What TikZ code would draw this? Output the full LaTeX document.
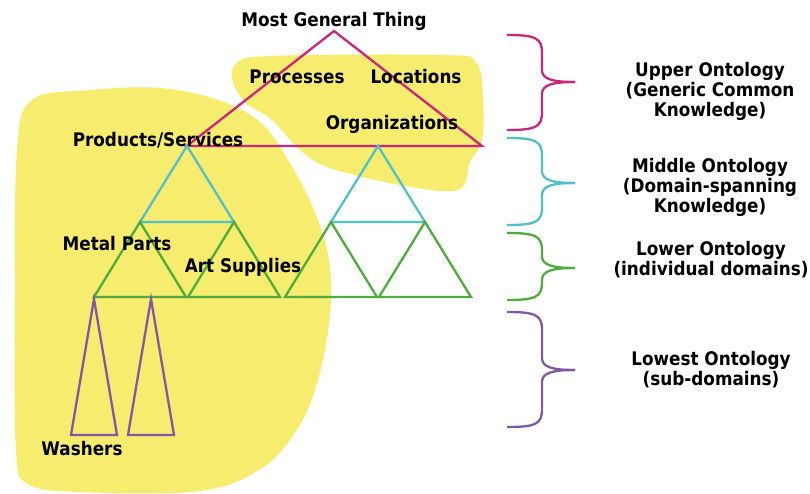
\documentclass[tikz,border=0pt]{standalone}
\usepackage{fontspec}
\setmainfont{DejaVu Sans}[FakeStretch=0.9]
\definecolor{blobyellow}{RGB}{246,236,110}
\definecolor{upperpink}{RGB}{205,36,124}
\definecolor{middlecyan}{RGB}{82,192,200}
\definecolor{lowergreen}{RGB}{78,172,60}
\definecolor{lowestpurple}{RGB}{128,88,168}
\tikzset{
  lbl/.style={font=\fontsize{18.7}{20}\selectfont\bfseries,inner sep=0pt,align=center},
  tri/.style={line width=2.3pt},
  bracepath/.style={line width=2.3pt},
}
% colour, top, tip, bottom
\newcommand{\ontbrace}[4]{%
  \draw[bracepath,#1] (507,#2) .. controls (536,#2) and (542,#2+3) .. (542,#2+18)
    -- (542,#3-12) .. controls (542,#3-3) and (552,#3) .. (575,#3);
  \draw[bracepath,#1] (575,#3) .. controls (552,#3) and (542,#3+3) .. (542,#3+12)
    -- (542,#4-18) .. controls (542,#4-3) and (536,#4) .. (507,#4);
}

\begin{document}
\begin{tikzpicture}[x=1pt,y=-1pt]
        \useasboundingbox (0,0) rectangle (810,493);
        % yellow areas
        \fill[blobyellow] plot[smooth cycle,tension=0.6] coordinates {(32,100) (90,90) (160,88) (218,100) (260,122) (288,160) (314,210) (329,260) (330,315) (318,380) (298,428) (262,468) (200,491) (80,492) (28,484) (16,450) (15,300) (17,150)};
        \fill[blobyellow] plot[smooth cycle,tension=0.6] coordinates {(236,64) (270,56) (440,55) (476,62) (483,100) (482,140) (470,162) (458,190) (400,185) (330,168) (300,150) (272,120) (246,103) (233,82)};
        % triangles
        \draw[tri,upperpink] (334,31) -- (187,146) -- (482,146) -- cycle;
        \foreach \x in {187,378}
          \draw[tri,middlecyan] (\x,146) -- (\x-47,222) -- (\x+47,222) -- cycle;
        \foreach \x in {140,234,331,425}
          \draw[tri,lowergreen] (\x,222) -- (\x-46,297) -- (\x+46,297) -- cycle;
        \foreach \x in {94,151}
          \draw[tri,lowestpurple] (\x,299) -- (\x-23,435) -- (\x+23,435) -- cycle;
        % labels
        \node[lbl] (most) at (334,21) {Most General Thing};
        \node[lbl] (proc) at (297,77) {Processes};
        \node[lbl] (loc) at (416,77) {Locations};
        \node[lbl] (org) at (392,124) {Organizations};
        \node[lbl] (prod) at (158,140) {Products/Services};
        \node[lbl] (metal) at (117,244) {Metal Parts};
        \node[lbl] (art) at (243,267) {Art Supplies};
        \node[lbl] (wash) at (82,449) {Washers};
        % levels
        \ontbrace{upperpink}{35}{82}{130}
        \ontbrace{middlecyan}{138}{183}{225}
        \ontbrace{lowergreen}{233}{268}{300}
        \ontbrace{lowestpurple}{312}{370}{427}
        \node[lbl] (upper) at (710,91) {Upper Ontology\\(Generic Common\\Knowledge)};
        \node[lbl] (middle) at (710,187) {Middle Ontology\\(Domain-spanning\\Knowledge)};
        \node[lbl] (lower) at (711,260) {Lower Ontology\\(individual domains)};
        \node[lbl] (lowest) at (711,370) {Lowest Ontology\\(sub-domains)};
\end{tikzpicture}
\end{document}
